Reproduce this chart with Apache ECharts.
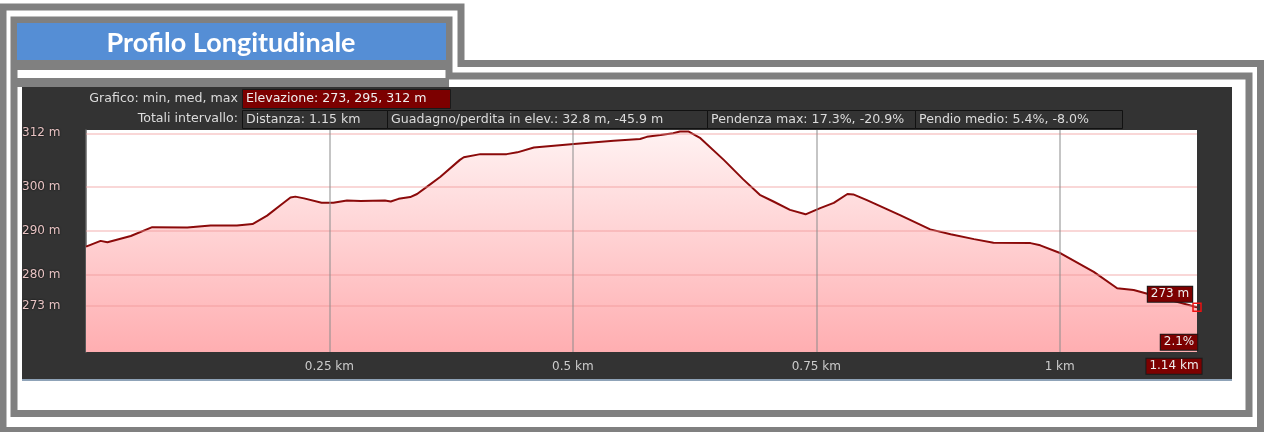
<!DOCTYPE html>
<html><head><meta charset="utf-8">
<script src="https://cdn.jsdelivr.net/npm/echarts@6/dist/echarts.min.js"></script>
<style>html,body{margin:0;padding:0;background:#fff}#c{width:1264px;height:432px}</style>
</head><body><div id="c"></div>
<script>
// ---- data ----
const distKm = [0, 0.015, 0.022, 0.046, 0.068, 0.104, 0.128, 0.155, 0.171, 0.186,
  0.200, 0.210, 0.215, 0.224, 0.242, 0.254, 0.268, 0.282, 0.307, 0.313,
  0.321, 0.333, 0.340, 0.350, 0.364, 0.384, 0.388, 0.405, 0.432, 0.443,
  0.460, 0.501, 0.542, 0.569, 0.576, 0.590, 0.603, 0.610, 0.619, 0.631,
  0.655, 0.675, 0.692, 0.706, 0.723, 0.739, 0.754, 0.768, 0.782, 0.788,
  0.802, 0.836, 0.867, 0.888, 0.912, 0.932, 0.970, 0.980, 1.001, 1.035,
  1.059, 1.076, 1.091, 1.141];
const elevM = [286.4, 287.7, 287.4, 288.8, 290.8, 290.7, 291.2, 291.2, 291.5, 293.4,
  295.8, 297.5, 297.7, 297.3, 296.3, 296.3, 296.8, 296.7, 296.8, 296.6,
  297.2, 297.6, 298.3, 299.9, 302.2, 306.0, 306.6, 307.3, 307.3, 307.7,
  308.8, 309.6, 310.3, 310.7, 311.2, 311.6, 312.0, 312.4, 312.4, 310.9,
  306.0, 301.6, 298.1, 296.6, 294.7, 293.7, 295.1, 296.3, 298.3, 298.2,
  296.9, 293.5, 290.3, 289.2, 288.1, 287.3, 287.2, 286.7, 284.9, 280.7,
  277.0, 276.6, 275.7, 272.7];
const yTickValues = [273, 280, 290, 300, 312];
const xTickValues = [0.25, 0.5, 0.75, 1];
const titleText = 'Profilo Longitudinale';
const row1Label = 'Grafico: min, med, max';
const row1Box = 'Elevazione: 273, 295, 312 m';
const row2Label = 'Totali intervallo:';
const row2Boxes = ['Distanza: 1.15 km', 'Guadagno/perdita in elev.: 32.8 m, -45.9 m',
  'Pendenza max: 17.3%, -20.9%', 'Pendio medio: 5.4%, -8.0%'];
const endLabels = ['273 m', '2.1%', '1.14 km'];

// ---- layout helpers ----
const FONT = 'DejaVu Sans';
const INFO_FONT = '12.6px "DejaVu Sans"';
const GRAY = '#808080';
const row2Edges = [242, 387, 707, 915, 1122];

const graphics = [
  // frames
  {type: 'polygon', z: -10, shape: {points: [[3,7],[461,7],[461,63.5],[1260.5,63.5],[1260.5,430.5],[3,430.5]]},
   style: {fill: 'none', stroke: GRAY, lineWidth: 7}},
  {type: 'polygon', z: -10, shape: {points: [[14,20],[449,20],[449,76],[1249,76],[1249,413.5],[14,413.5]]},
   style: {fill: 'none', stroke: GRAY, lineWidth: 7}},
  {type: 'rect', z: -10, shape: {x: 17, y: 60, width: 432, height: 10}, style: {fill: GRAY}},
  {type: 'rect', z: -10, shape: {x: 17, y: 78, width: 432, height: 9}, style: {fill: GRAY}},
  // title
  {type: 'rect', z: -9, shape: {x: 17, y: 23, width: 429, height: 37}, style: {fill: '#558ed5'}},
  {type: 'text', z: 5, x: 231, y: 43, style: {text: titleText, fill: '#fff', font: 'bold 27px Lato',
    textAlign: 'center', textVerticalAlign: 'middle'}},
  // dark chart bg
  {type: 'rect', z: -9, shape: {x: 22, y: 87, width: 1210, height: 292}, style: {fill: '#333333'}},
  {type: 'rect', z: -9, shape: {x: 22, y: 379, width: 1210, height: 2}, style: {fill: '#8fa3b8'}},
  // row 1
  {type: 'text', z: 5, x: 238, y: 99, style: {text: row1Label, fill: '#dcdcdc', font: INFO_FONT,
    textAlign: 'right', textVerticalAlign: 'middle'}},
  {type: 'rect', z: 4, shape: {x: 242.5, y: 89.5, width: 208, height: 19}, style: {fill: '#7c0000', stroke: '#1a1a1a', lineWidth: 1}},
  {type: 'text', z: 5, x: 246, y: 99, style: {text: row1Box, fill: '#eeeeee', font: INFO_FONT,
    textAlign: 'left', textVerticalAlign: 'middle'}},
  // row 2
  {type: 'text', z: 5, x: 238, y: 119, style: {text: row2Label, fill: '#dcdcdc', font: INFO_FONT,
    textAlign: 'right', textVerticalAlign: 'middle'}}
];
row2Boxes.forEach((t, i) => {
  graphics.push({type: 'rect', z: 4, shape: {x: row2Edges[i] + 0.5, y: 110.5, width: row2Edges[i+1] - row2Edges[i], height: 18},
    style: {fill: '#333333', stroke: '#111111', lineWidth: 1}});
  graphics.push({type: 'text', z: 5, x: row2Edges[i] + 4, y: 119.5, style: {text: t, fill: '#dcdcdc',
    font: INFO_FONT, textAlign: 'left', textVerticalAlign: 'middle'}});
});

const lineData = distKm.map((d, i) => [d, elevM[i]]);
const last = lineData[lineData.length - 1];
const boxLabel = {show: true, position: 'inside', color: '#eeeeee', fontFamily: FONT, fontSize: 12,
  backgroundColor: '#7c0000', borderColor: '#1a1a1a', borderWidth: 1, padding: [2, 3, 1, 3]};

const chart = echarts.init(document.getElementById('c'));
chart.setOption({
  animation: false,
  graphic: graphics,
  grid: {left: 86, right: 67, top: 130, bottom: 80, show: true, backgroundColor: '#ffffff', borderWidth: 0, z: 0},
  xAxis: {
    type: 'value', min: 0, max: 1.141,
    axisLine: {show: false}, axisTick: {show: false}, splitLine: {show: false},
    axisLabel: {customValues: xTickValues, formatter: v => v + ' km', color: '#cccccc', fontFamily: FONT,
      fontSize: 12, margin: 9}
  },
  yAxis: {
    type: 'value', min: 262.6, max: 312.75,
    axisLine: {show: true, lineStyle: {color: '#666', width: 1.5}}, axisTick: {show: false}, splitLine: {show: false},
    axisLabel: {customValues: yTickValues, formatter: v => v + ' m', color: '#e7c3c3', fontFamily: FONT,
      fontSize: 12, align: 'left', margin: 64, textShadowColor: '#000', textShadowBlur: 2}
  },
  series: [{
    type: 'line', data: lineData, symbol: 'none', z: 2,
    lineStyle: {color: '#8b0a0a', width: 2},
    areaStyle: {color: new echarts.graphic.LinearGradient(0, 0, 0, 1, [
      {offset: 0, color: '#fff2f2'}, {offset: 1, color: '#ffaeb1'}]), opacity: 1},
    markLine: {
      silent: true, symbol: 'none', label: {show: false}, animation: false,
      data: yTickValues.map(v => ({yAxis: v, lineStyle: {color: 'rgba(240,150,150,0.5)', width: 1.5, type: 'solid'}}))
        .concat(xTickValues.map(v => ({xAxis: v, lineStyle: {color: 'rgba(140,140,140,0.5)', width: 2, type: 'solid'}})))
    },
    markPoint: {
      silent: true, animation: false,
      data: [
        {coord: last, symbol: 'rect', symbolSize: 8,
         itemStyle: {color: 'rgba(0,0,0,0)', borderColor: '#ee1111', borderWidth: 1.5},
         label: Object.assign({}, boxLabel, {formatter: endLabels[0], offset: [-27, -13]})},
        {coord: last, symbol: 'rect', symbolSize: 0,
         label: Object.assign({}, boxLabel, {formatter: endLabels[1], offset: [-18, 35]})},
        {coord: last, symbol: 'rect', symbolSize: 0,
         label: Object.assign({}, boxLabel, {formatter: endLabels[2], offset: [-23, 59]})}
      ]
    }
  }]
});
</script></body></html>
